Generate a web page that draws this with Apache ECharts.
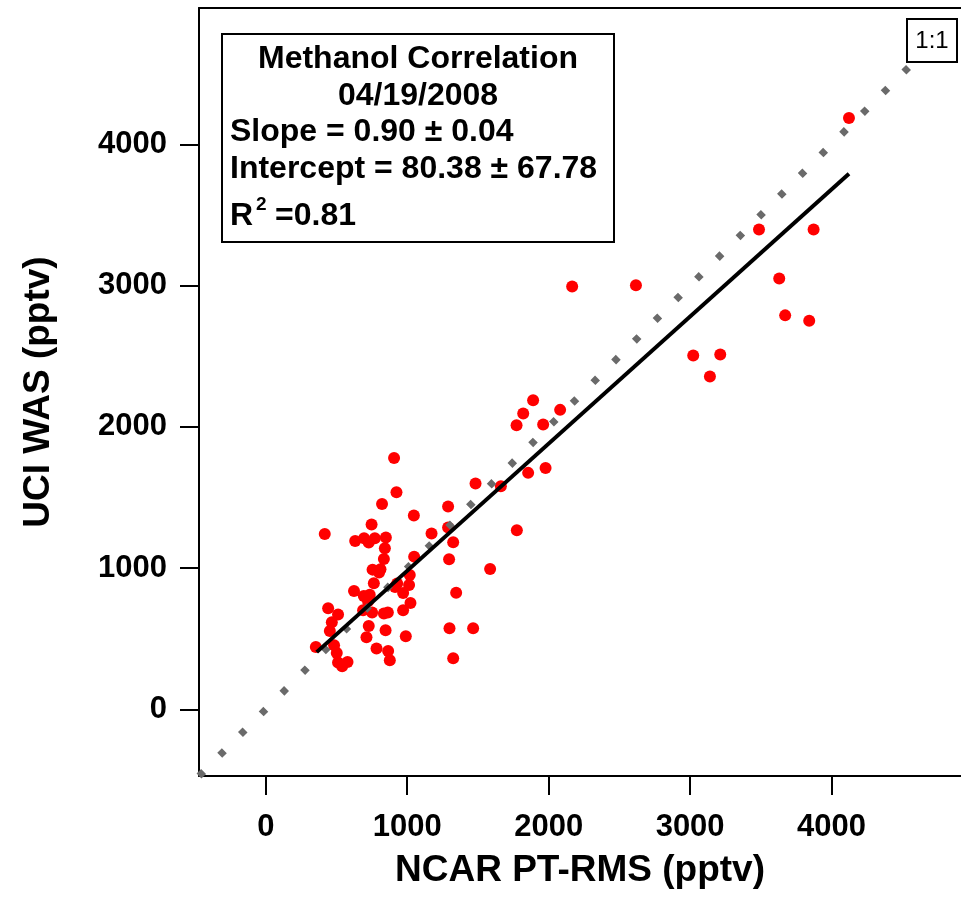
<!DOCTYPE html>
<html>
<head>
<meta charset="utf-8">
<script src="https://cdn.jsdelivr.net/npm/echarts@6/dist/echarts.min.js"></script>
<style>
html,body{margin:0;padding:0;background:#fff;}
#chart{width:961px;height:901px;}
</style>
</head>
<body>
<div id="chart"></div>
<script>
// NCAR PT-RMS (x) vs UCI WAS (y), pptv
const ncarValues = [4123,3487,3873,3630,3672,3842,2166,2617,3022,3213,3140,2081,
  1890,1820,1773,1961,1978,1855,1483,1662,1775,1586,1346,1299,1466,1325,
  907,924,822,1047,1289,1172,1289,1325,1296,1049,748,632,695,728,771,849,842,835,417,
  755,811,801,1018,764,624,693,735,723,929,1013,914,971,1023,688,752,835,863,971,
  441,511,467,728,847,453,990,712,354,483,502,783,865,877,511,578,540];
const uciValues = [4186,3397,3397,3050,2789,2751,2994,3003,2505,2512,2356,2120,
  2188,2094,2011,2016,1709,1674,1598,1579,1268,994,826,574,574,361,
  1780,1537,1454,1372,1436,1244,1287,1183,1062,1081,1308,1192,1211,1181,1211,1216,1140,1064,1241,
  989,991,968,951,892,838,802,812,765,890,880,866,824,753,701,685,678,685,701,
  715,671,616,590,559,555,517,510,441,453,399,430,413,347,331,335,305];
const oneToOneX = [-472, 4575];
const oneToOneY = [-472, 4575];
const fitX = [360, 4123];
const fitY = [405, 3791];
const tickValues = [0, 1000, 2000, 3000, 4000];
const xAxisTitle = 'NCAR PT-RMS (pptv)';
const yAxisTitle = 'UCI WAS (pptv)';
const boxLines = ['Methanol Correlation', '04/19/2008', 'Slope = 0.90 \u00b1 0.04', 'Intercept = 80.38 \u00b1 67.78'];
const r2Text = ['R', '2', '=0.81'];
const refLabel = '1:1';

const FONT = '"Liberation Sans", Arial, Helvetica, sans-serif';
const chart = echarts.init(document.getElementById('chart'), null, {renderer: 'canvas'});

const scatterData = ncarValues.map((v, i) => [v, uciValues[i]]);
const lineData = oneToOneX.map((v, i) => [v, oneToOneY[i]]);
const fitData = fitX.map((v, i) => [v, fitY[i]]);

const axisCommon = {
  type: 'value',
  min: -472,
  splitLine: {show: false},
  axisLine: {show: true, onZero: false, lineStyle: {color: '#000', width: 2}},
  axisTick: {show: true, inside: false, length: 19, customValues: tickValues, lineStyle: {color: '#000', width: 2}},
  axisLabel: {show: true, customValues: tickValues, formatter: v => String(v), color: '#000', fontFamily: FONT, fontWeight: 'bold', fontSize: 31},
  nameTextStyle: {color: '#000', fontFamily: FONT, fontWeight: 'bold', fontSize: 37},
  nameLocation: 'middle'
};

const option = {
  animation: false,
  backgroundColor: '#fff',
  grid: {left: 199, right: 0, top: 8, bottom: 125, containLabel: false},
  xAxis: [
    Object.assign({}, axisCommon, {
      max: 4915, name: xAxisTitle, nameGap: 76,
      axisLabel: Object.assign({}, axisCommon.axisLabel, {margin: 36})
    }),
    {type: 'value', position: 'top', min: -472, max: 4915,
     axisLine: {show: true, onZero: false, lineStyle: {color: '#000', width: 2}},
     axisTick: {show: false}, axisLabel: {show: false}, splitLine: {show: false}}
  ],
  yAxis: Object.assign({}, axisCommon, {
    max: 4965, name: yAxisTitle, nameGap: 142,
    axisLabel: Object.assign({}, axisCommon.axisLabel, {margin: 32})
  }),
  series: [
    {type: 'scatter', data: scatterData, symbol: 'circle', symbolSize: 12,
     itemStyle: {color: '#ff0000', opacity: 1}, z: 2},
    {type: 'line', data: lineData, symbol: 'none', z: 3, clip: true,
     lineStyle: {color: '#6a6a6a', width: 7, type: [6.5, 22.8], cap: 'butt', dashOffset: 0, opacity: 1}},
    {type: 'line', data: fitData, symbol: 'none', z: 4, clip: true,
     lineStyle: {color: '#000', width: 4, opacity: 1}}
  ],
  graphic: [
    {type: 'rect', shape: {x: 222, y: 34, width: 392, height: 208},
     style: {fill: '#fff', stroke: '#000', lineWidth: 2}, z: 10},
    {type: 'text', x: 418, y: 59.5, z: 11, style: {text: boxLines[0], font: 'bold 32px ' + FONT, fill: '#000', textAlign: 'center', textVerticalAlign: 'middle'}},
    {type: 'text', x: 418, y: 96.5, z: 11, style: {text: boxLines[1], font: 'bold 32px ' + FONT, fill: '#000', textAlign: 'center', textVerticalAlign: 'middle'}},
    {type: 'text', x: 230, y: 132.5, z: 11, style: {text: boxLines[2], font: 'bold 32px ' + FONT, fill: '#000', textAlign: 'left', textVerticalAlign: 'middle'}},
    {type: 'text', x: 230, y: 169.5, z: 11, style: {text: boxLines[3], font: 'bold 32px ' + FONT, fill: '#000', textAlign: 'left', textVerticalAlign: 'middle'}},
    {type: 'text', x: 230, y: 216.5, z: 11, style: {text: r2Text[0], font: 'bold 32px ' + FONT, fill: '#000', textAlign: 'left', textVerticalAlign: 'middle'}},
    {type: 'text', x: 256, y: 205, z: 11, style: {text: r2Text[1], font: 'bold 19px ' + FONT, fill: '#000', textAlign: 'left', textVerticalAlign: 'middle'}},
    {type: 'text', x: 275, y: 216.5, z: 11, style: {text: r2Text[2], font: 'bold 32px ' + FONT, fill: '#000', textAlign: 'left', textVerticalAlign: 'middle'}},
    {type: 'rect', shape: {x: 907, y: 19, width: 50, height: 43},
     style: {fill: '#fff', stroke: '#000', lineWidth: 2}, z: 10},
    {type: 'text', x: 932, y: 41, z: 11, style: {text: refLabel, font: '24px ' + FONT, fill: '#000', textAlign: 'center', textVerticalAlign: 'middle'}}
  ]
};
chart.setOption(option);
</script>
</body>
</html>
